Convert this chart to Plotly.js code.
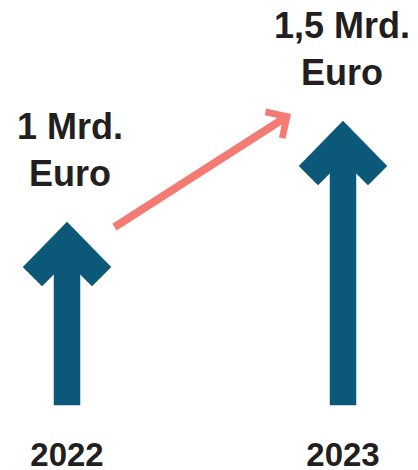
<!DOCTYPE html>
<html>
<head>
<meta charset="utf-8">
<script src="https://cdn.plot.ly/plotly-3.0.1.min.js"></script>
<style>html,body{margin:0;padding:0;background:#fff;}#chart{width:418px;height:470px;}</style>
</head>
<body>
<div id="chart"></div>
<script>
// ---- data ----
const years = ['2022', '2023'];
const values = [1, 1.5];
const valueLabels = ['1 Mrd.<br>Euro', '1,5 Mrd.<br>Euro'];

// ---- layout geometry (pixels) ----
const W = 418, H = 470, MB = 38;
const plotH = H - MB;
const pxX = 276, x0px = 67;     // pixel per x unit, pixel of first category
const pxY = 202, y1px = 222;    // pixel per y unit, pixel of value 1
const basePx = 405;
const xr = [-x0px / pxX, (W - x0px) / pxX];
const yr = [1 - (plotH - y1px) / pxY, 1 + y1px / pxY];
const baseVal = 1 - (basePx - y1px) / pxY;

const fx = (i, dx) => i + dx / pxX;
const fy = (v, dy) => v - dy / pxY;

const blue = '#0b5879';
const salmon = '#f47a74';
const txt = '#231f20';
const fam = 'Liberation Sans, Arial, Helvetica, sans-serif';

// arrow outline relative to the tip (dx right, dy down, pixels)
const head = [[0,0],[44,45],[25,64],[13,52]];
const traces = values.map((v, i) => {
  const xs = [], ys = [];
  head.forEach(p => { xs.push(fx(i, p[0])); ys.push(fy(v, p[1])); });
  xs.push(fx(i, 13)); ys.push(baseVal);
  xs.push(fx(i, -13)); ys.push(baseVal);
  head.slice(1).reverse().forEach(p => { xs.push(fx(i, -p[0])); ys.push(fy(v, p[1])); });
  xs.push(fx(i, 0)); ys.push(fy(v, 0));
  return {
    type: 'scatter', mode: 'lines', x: xs, y: ys, fill: 'toself',
    fillcolor: blue, line: {color: blue, width: 0.5}, hoverinfo: 'skip', showlegend: false
  };
});

const annotations = values.map((v, i) => ({
  x: fx(i, 3 - 4 * i), y: fy(v, -72), xref: 'x', yref: 'y',
  text: valueLabels[i], showarrow: false, xanchor: 'center', yanchor: 'middle',
  font: {family: fam, size: 36, color: txt, weight: 700}, align: 'center'
}));

// growth arrow between the two values
annotations.push({
  x: fx(1, -52), y: fy(values[1], -7), xref: 'x', yref: 'y',
  ax: fx(0, 46), ay: fy(values[0], 6), axref: 'x', ayref: 'y',
  text: '', showarrow: true, arrowhead: 4, arrowsize: 0.75, arrowwidth: 8,
  arrowcolor: salmon, standoff: 0
});

const layout = {
  width: W, height: H,
  margin: {l: 0, r: 0, t: 0, b: MB, pad: 0},
  paper_bgcolor: '#fff', plot_bgcolor: '#fff',
  xaxis: {
    range: xr, tickvals: [0, 1], ticktext: years, showgrid: false, zeroline: false,
    showline: false, ticks: '', tickfont: {family: fam, size: 33, color: txt, weight: 700},
    fixedrange: true
  },
  yaxis: {
    range: yr, showgrid: false, zeroline: false, showline: false,
    showticklabels: false, ticks: '', fixedrange: true
  },
  annotations: annotations,
  showlegend: false
};

Plotly.newPlot('chart', traces, layout, {displayModeBar: false, staticPlot: true});
</script>
</body>
</html>
